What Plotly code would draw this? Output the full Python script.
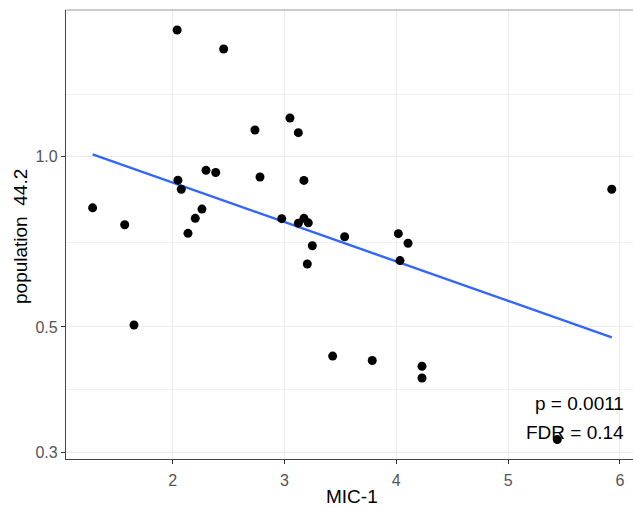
import plotly.graph_objects as go

# Data
mic1 = [1.284, 1.571, 1.654, 2.040, 2.047, 2.077, 2.137, 2.202, 2.262, 2.298,
        2.385, 2.456, 2.736, 2.781, 2.975, 3.049, 3.124, 3.124, 3.174, 3.174,
        3.213, 3.204, 3.249, 3.431, 3.538, 3.785, 4.018, 4.033, 4.105, 4.230,
        4.230, 5.440, 5.927]
population = [0.812, 0.758, 0.504, 1.676, 0.909, 0.876, 0.732, 0.778, 0.808, 0.946,
              0.938, 1.551, 1.115, 0.921, 0.777, 1.171, 1.103, 0.763, 0.908, 0.778,
              0.764, 0.646, 0.696, 0.444, 0.722, 0.436, 0.731, 0.655, 0.703, 0.426,
              0.406, 0.316, 0.876]
fit_x = [1.284, 5.927]
fit_y = [1.010, 0.479]

x_ticks = [2, 3, 4, 5, 6]
y_ticks = [0.3, 0.5, 1.0]
y_ticktext = ["0.3", "0.5", "1.0"]
y_minor = [0.387, 0.704, 1.291]

fig = go.Figure()
fig.add_trace(go.Scatter(x=fit_x, y=fit_y, mode="lines",
                         line=dict(color="#3366FF", width=2.4), hoverinfo="skip"))
fig.add_trace(go.Scatter(x=mic1, y=population, mode="markers",
                         marker=dict(color="black", size=9)))

W, H = 633, 508
L, R, T, B = 66, 0, 10, 49
pw = W - L - R
ph = H - T - B

fig.update_layout(
    width=W, height=H,
    margin=dict(l=L, r=R, t=T, b=B),
    paper_bgcolor="white", plot_bgcolor="white",
    showlegend=False,
    font=dict(family="Liberation Sans, Arial, sans-serif"),
    xaxis=dict(
        range=[1.046, 6.117],
        tickvals=x_ticks,
        ticktext=[str(v) for v in x_ticks],
        showgrid=True, gridcolor="#ebebeb", gridwidth=1,
        zeroline=False,
        showline=True, linecolor="#444444", linewidth=1.2,
        ticks="outside", ticklen=4, tickcolor="#333333", tickwidth=1,
        ticklabelstandoff=3,
        tickfont=dict(size=16, color="#555555"),
    ),
    yaxis=dict(
        type="log",
        range=[-0.5347, 0.2596],
        tickvals=y_ticks,
        ticktext=y_ticktext,
        showgrid=True, gridcolor="#ebebeb", gridwidth=1,
        zeroline=False,
        showline=True, linecolor="#444444", linewidth=1.2,
        ticks="outside", ticklen=4, tickcolor="#333333", tickwidth=1,
        tickfont=dict(size=16, color="#555555"),
        minor=dict(tickvals=y_minor, showgrid=True, gridcolor="#f0f0f0",
                   gridwidth=0.7, ticks=""),
    ),
)

# top border of panel
fig.add_shape(type="line", xref="paper", yref="paper", x0=0, x1=1, y0=1, y1=1,
              line=dict(color="#999999", width=1.2))

# axis titles
fig.add_annotation(text="MIC-1", xref="paper", yref="paper",
                   x=(352 - L) / pw, y=-(496 - (T + ph)) / ph,
                   xanchor="center", yanchor="middle", showarrow=False,
                   font=dict(size=19, color="black"))
fig.add_annotation(text="population\u00a0\u00a044.2", xref="paper", yref="paper",
                   x=(20 - L) / pw, y=(T + ph - 237) / ph, textangle=-90,
                   xanchor="center", yanchor="middle", showarrow=False,
                   font=dict(size=19, color="black"))

# stats labels
fig.add_annotation(text="p = 0.0011", xref="paper", yref="paper",
                   x=(626 - L) / pw, y=(T + ph - 403) / ph,
                   xanchor="right", yanchor="middle", showarrow=False,
                   font=dict(size=19, color="black"))
fig.add_annotation(text="FDR = 0.14", xref="paper", yref="paper",
                   x=(626 - L) / pw, y=(T + ph - 432) / ph,
                   xanchor="right", yanchor="middle", showarrow=False,
                   font=dict(size=19, color="black"))

fig.write_html("out.html", config={"displayModeBar": False},
               post_script="document.body.style.margin='0px';document.body.style.overflow='hidden';")
